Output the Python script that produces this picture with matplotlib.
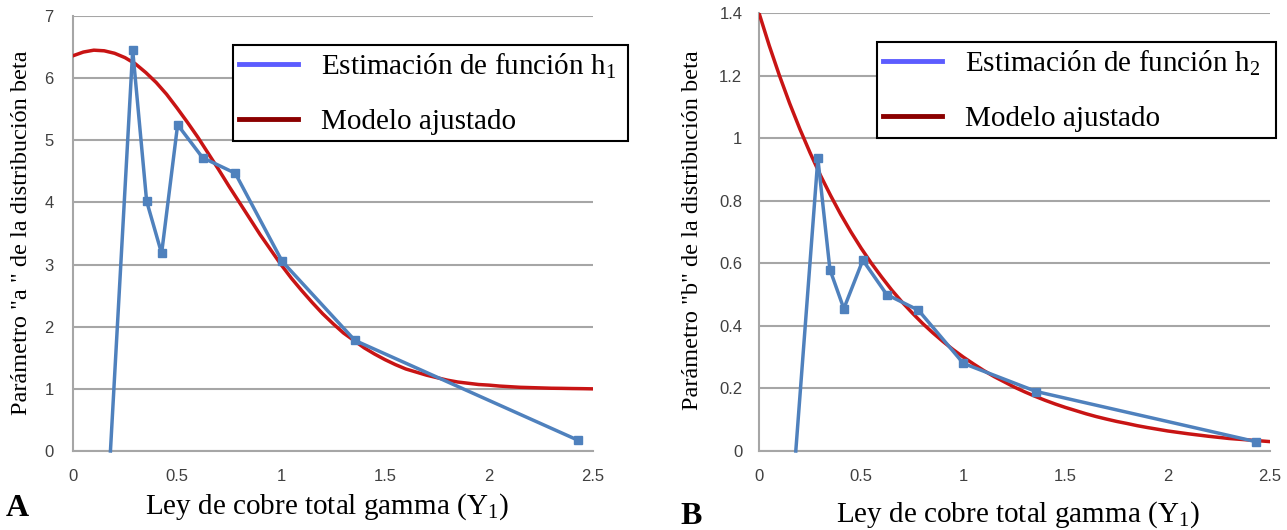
import matplotlib
matplotlib.use("Agg")
import matplotlib.pyplot as plt
from matplotlib.lines import Line2D

# ---- data ----
xA = [0.18, 0.287, 0.354, 0.426, 0.503, 0.623, 0.78, 1.006, 1.355, 2.43]
yA = [0.0, 6.45, 4.02, 3.18, 5.25, 4.72, 4.47, 3.05, 1.78, 0.17]

xB = [0.18, 0.288, 0.347, 0.415, 0.508, 0.625, 0.78, 1.0, 1.357, 2.43]
yB = [0.0, 0.935, 0.58, 0.455, 0.61, 0.50, 0.45, 0.28, 0.19, 0.03]

x_model = [0.0, 0.05, 0.1, 0.15, 0.2, 0.25, 0.3, 0.35, 0.4, 0.45, 0.5, 0.55,
           0.6, 0.65, 0.7, 0.75, 0.8, 0.85, 0.9, 0.95, 1.0, 1.05, 1.1, 1.15,
           1.2, 1.25, 1.3, 1.35, 1.4, 1.45, 1.5, 1.55, 1.6, 1.65, 1.7, 1.75,
           1.8, 1.85, 1.9, 1.95, 2.0, 2.05, 2.1, 2.15, 2.2, 2.25, 2.3, 2.35,
           2.4, 2.45, 2.5]
modelA = [6.36, 6.42, 6.45, 6.44, 6.40, 6.33, 6.23, 6.09, 5.93, 5.74, 5.52,
          5.29, 5.05, 4.79, 4.53, 4.26, 4.00, 3.74, 3.48, 3.24, 3.00, 2.78,
          2.58, 2.39, 2.21, 2.05, 1.90, 1.78, 1.66, 1.56, 1.47, 1.39, 1.32,
          1.27, 1.22, 1.18, 1.14, 1.11, 1.09, 1.07, 1.06, 1.045, 1.035,
          1.025, 1.02, 1.015, 1.01, 1.008, 1.005, 1.003, 1.00]
modelB = [1.400, 1.296, 1.200, 1.111, 1.029, 0.953, 0.882, 0.817, 0.756,
          0.700, 0.648, 0.600, 0.556, 0.514, 0.476, 0.441, 0.408, 0.378,
          0.350, 0.324, 0.300, 0.278, 0.257, 0.238, 0.221, 0.204, 0.189,
          0.175, 0.162, 0.150, 0.139, 0.129, 0.119, 0.110, 0.102, 0.0945,
          0.088, 0.081, 0.075, 0.0695, 0.064, 0.0595, 0.055, 0.051, 0.047,
          0.0435, 0.040, 0.0375, 0.035, 0.0325, 0.030]

xticks = [0, 0.5, 1, 1.5, 2, 2.5]
xticklabels = ["0", "0.5", "1", "1.5", "2", "2.5"]
yticksA = [0, 1, 2, 3, 4, 5, 6, 7]
yticklabelsA = ["0", "1", "2", "3", "4", "5", "6", "7"]
yticksB = [0, 0.2, 0.4, 0.6, 0.8, 1.0, 1.2, 1.4]
yticklabelsB = ["0", "0.2", "0.4", "0.6", "0.8", "1", "1.2", "1.4"]

xlabel = "Ley de cobre total gamma (Y$_1$)"
ylabelA = 'Parámetro "a " de la distribución beta'
ylabelB = 'Parámetro "b" de la distribución beta'
legA = ["Estimación de función h$_1$", "Modelo ajustado"]
legB = ["Estimación de función h$_2$", "Modelo ajustado"]

# ---- styling ----
plt.rcParams["mathtext.fontset"] = "custom"
plt.rcParams["mathtext.rm"] = "Liberation Serif"
plt.rcParams["mathtext.default"] = "rm"

SERIF = "Liberation Serif"
TICKFONT = "Liberation Sans"
BLUE = "#4F81BD"
RED = "#C81414"
LEG_BLUE = "#5C5CFF"
LEG_RED = "#8B0000"
GRID = "#A6A6A6"

W, H = 1287, 530
fig = plt.figure(figsize=(W / 100, H / 100), dpi=100)


def px_axes(left, right, top, bottom):
    return fig.add_axes([left / W, 1 - bottom / H, (right - left) / W, (bottom - top) / H])


def style(ax, yticks, yticklabels, ymax, ypad):
    ax.set_xlim(0, 2.5)
    ax.set_ylim(0, ymax)
    ax.set_xticks(xticks)
    ax.set_xticklabels(xticklabels, fontfamily=TICKFONT, fontsize=12, color="#404040")
    ax.set_yticks(yticks)
    ax.set_yticklabels(yticklabels, fontfamily=TICKFONT, fontsize=12, color="#404040")
    ax.tick_params(axis="both", length=0)
    ax.tick_params(axis="x", pad=13)
    ax.tick_params(axis="y", pad=ypad)
    for s in ["top", "right"]:
        ax.spines[s].set_visible(False)
    for s in ["left", "bottom"]:
        ax.spines[s].set_color(GRID)
        ax.spines[s].set_linewidth(1.5)
    ax.yaxis.grid(True, color=GRID, linewidth=1.5)
    ax.set_axisbelow(True)


def legend(ax, labels, x0, y0, w, h):
    handles = [Line2D([], [], color=LEG_BLUE, lw=3.5), Line2D([], [], color=LEG_RED, lw=3.5)]
    lg = ax.legend(handles, labels, loc="upper left", bbox_to_anchor=(x0, y0, w, h),
                   mode="expand", prop={"family": SERIF, "size": 21},
                   handlelength=2.0, handletextpad=0.8, labelspacing=0.95,
                   borderpad=0.22, frameon=True, fancybox=False, borderaxespad=0)
    fr = lg.get_frame()
    fr.set_edgecolor("black")
    fr.set_linewidth(1.5)
    fr.set_alpha(1)
    return lg


# ---- panel A ----
axA = px_axes(73, 593, 16, 451)
style(axA, yticksA, yticklabelsA, 7, 14)
axA.plot(x_model, modelA, color=RED, lw=2.5, zorder=3)
axA.plot(xA[1:], yA[1:], color=BLUE, lw=2.5, marker="s", ms=6, zorder=4)
axA.plot(xA[:2], yA[:2], color=BLUE, lw=2.5, zorder=4, clip_on=False)
axA.set_xlabel(xlabel, fontfamily=SERIF, fontsize=21)
axA.xaxis.set_label_coords((327 - 73) / 520, (451 - 507) / 435)
axA.xaxis.label.set_va("center")
axA.set_ylabel(ylabelA, fontfamily=SERIF, fontsize=17.5)
axA.yaxis.set_label_coords((22 - 73) / 520, (451 - 233) / 435)
axA.yaxis.label.set_va("center")
legend(axA, legA, (233 - 73) / 520, (451 - 137) / 435, (628 - 233) / 520, (137 - 45) / 435)

# ---- panel B ----
axB = px_axes(759, 1270, 13, 451)
style(axB, yticksB, yticklabelsB, 1.4, 12)
axB.plot(x_model, modelB, color=RED, lw=2.5, zorder=3)
axB.plot(xB[1:], yB[1:], color=BLUE, lw=2.5, marker="s", ms=6, zorder=4)
axB.plot(xB[:2], yB[:2], color=BLUE, lw=2.5, zorder=4, clip_on=False)
axB.set_xlabel(xlabel, fontfamily=SERIF, fontsize=21)
axB.xaxis.set_label_coords((1018 - 759) / 511, (451 - 515) / 438)
axB.xaxis.label.set_va("center")
axB.set_ylabel(ylabelB, fontfamily=SERIF, fontsize=17.5)
axB.yaxis.set_label_coords((693 - 759) / 511, (451 - 230) / 438)
axB.yaxis.label.set_va("center")
legend(axB, legB, (877 - 759) / 511, (451 - 134) / 438, (1276 - 877) / 511, (134 - 42) / 438)

# ---- panel letters ----
fig.text(6 / W, 1 - 508 / H, "A", fontfamily=SERIF, fontsize=23, fontweight="bold", va="center")
fig.text(680 / W, 1 - 516 / H, "B", fontfamily=SERIF, fontsize=23, fontweight="bold", va="center")

fig.savefig("out.png", dpi=100)
